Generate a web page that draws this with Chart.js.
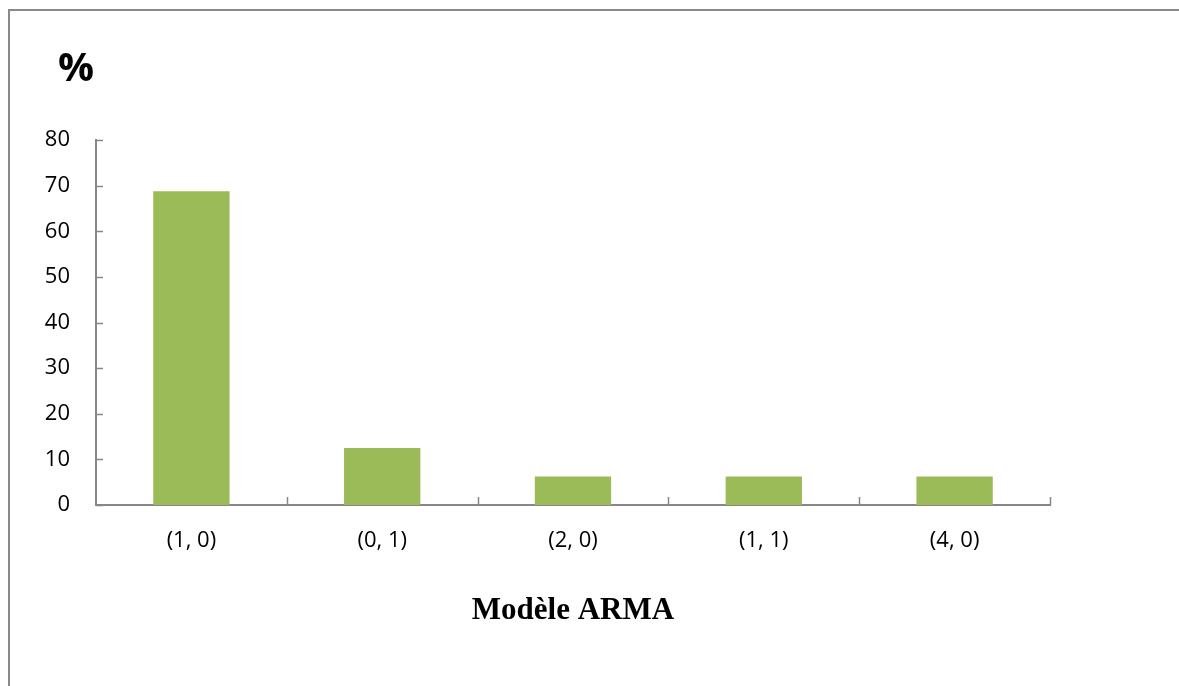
<!DOCTYPE html>
<html>
<head>
<meta charset="utf-8">
<script src="https://cdn.jsdelivr.net/npm/chart.js@4/dist/chart.umd.min.js"></script>
<style>
  html, body { margin: 0; padding: 0; background: #fff; overflow: hidden; }
  #wrap { position: relative; width: 1179px; height: 686px; }
  #frame { position: absolute; left: 8px; top: 9px; width: 1200px; height: 700px; border: 2px solid #898989; box-sizing: border-box; }
  canvas { position: absolute; left: 0; top: 0; }
</style>
</head>
<body>
<div id="wrap">
  <div id="frame"></div>
  <canvas id="c" width="1179" height="686"></canvas>
</div>
<script>
// Part of each ARMA(p, q) specification among the selected models (%)
const categories = ['(1, 0)', '(0, 1)', '(2, 0)', '(1, 1)', '(4, 0)'];
const shares = [68.75, 12.5, 6.25, 6.25, 6.25];
const yTicks = [0, 10, 20, 30, 40, 50, 60, 70, 80];

const AXIS = '#878787';

// Short tick marks drawn inside the plot area (y ticks to the right, x ticks upward at category bounds)
const innerTicks = {
  id: 'innerTicks',
  afterDatasetsDraw(chart) {
    const { ctx, chartArea, scales } = chart;
    ctx.save();
    ctx.strokeStyle = AXIS;
    ctx.lineWidth = 1.5;
    ctx.beginPath();
    yTicks.forEach(v => {
      const y = Math.round(scales.y.getPixelForValue(v)) + 0.5;
      ctx.moveTo(chartArea.left, y);
      ctx.lineTo(chartArea.left + 7, y);
    });
    const step = (chartArea.right - chartArea.left) / categories.length;
    for (let i = 1; i <= categories.length; i++) {
      const x = Math.round(chartArea.left + i * step) + 0.5;
      ctx.moveTo(x, chartArea.bottom);
      ctx.lineTo(x, chartArea.bottom - 8);
    }
    ctx.stroke();
    // unit label above the value axis
    ctx.fillStyle = '#000';
    ctx.font = 'bold 40px "Open Sans", sans-serif';
    ctx.textAlign = 'left';
    ctx.textBaseline = 'alphabetic';
    ctx.fillText('%', 58, 81);
    ctx.restore();
  }
};

new Chart(document.getElementById('c'), {
  type: 'bar',
  data: {
    labels: categories,
    datasets: [{
      data: shares,
      backgroundColor: '#9BBB59',
      borderWidth: 0,
      categoryPercentage: 1,
      barPercentage: 0.4
    }]
  },
  options: {
    responsive: false,
    animation: false,
    layout: { padding: { left: 0, top: 140, right: 129, bottom: 56 } },
    plugins: { legend: { display: false }, tooltip: { enabled: false } },
    scales: {
      x: {
        grid: { display: false, drawTicks: false },
        border: { color: AXIS, width: 2 },
        ticks: { color: '#000', font: { family: '"Open Sans", sans-serif', size: 22 }, padding: 23 },
        title: {
          display: true,
          text: 'Modèle ARMA',
          color: '#000',
          font: { family: '"Liberation Serif", "Times New Roman", serif', size: 31, weight: 'bold' },
          padding: { top: 0, bottom: 0 }
        },
        afterFit(scale) { scale.height = 125; }
      },
      y: {
        min: 0,
        max: 80,
        grid: { display: false, drawTicks: false },
        border: { color: AXIS, width: 2 },
        ticks: {
          stepSize: 10,
          color: '#000',
          font: { family: '"Open Sans", sans-serif', size: 22 },
          padding: 26
        },
        afterFit(scale) { scale.width = 96; }
      }
    }
  },
  plugins: [innerTicks]
});
</script>
</body>
</html>
